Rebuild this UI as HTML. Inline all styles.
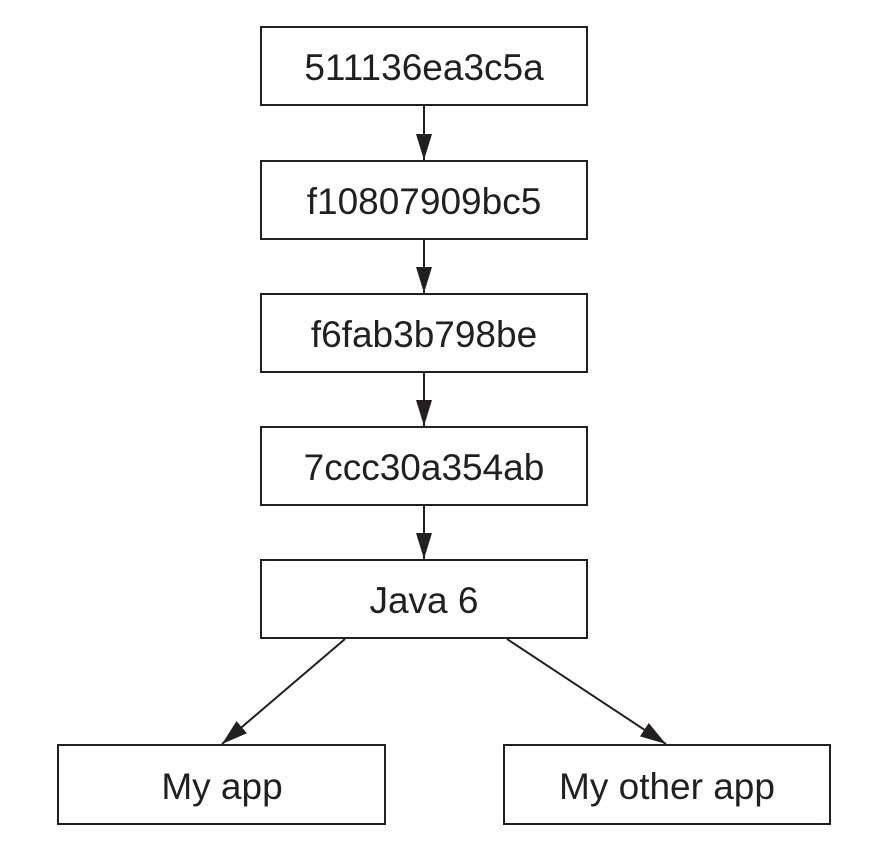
<!DOCTYPE html>
<html><head><style>
html,body{margin:0;padding:0;background:#fff;}
svg{display:block;}
text{font-family:"Liberation Sans",sans-serif;font-size:37px;fill:#231f20;text-anchor:middle;}
</style></head><body>
<svg width="878" height="858" viewBox="0 0 878 858" xmlns="http://www.w3.org/2000/svg">
<defs>
<marker id="b" markerWidth="26" markerHeight="16" refX="26" refY="8" orient="auto" markerUnits="userSpaceOnUse">
<path d="M0,0 L26,8 L0,16 Z" fill="#231f20"/>
</marker>
</defs>
<g fill="#fff" stroke="#231f20" stroke-width="2">
<rect x="261" y="27" width="326" height="78"/>
<rect x="261" y="161" width="326" height="78"/>
<rect x="261" y="294" width="326" height="78"/>
<rect x="261" y="427" width="326" height="78"/>
<rect x="261" y="560" width="326" height="78"/>
<rect x="58" y="745" width="327" height="79"/>
<rect x="504" y="745" width="326" height="79"/>
</g>
<g stroke="#231f20" stroke-width="2">
<line x1="424" y1="105" x2="424" y2="160" marker-end="url(#b)"/>
<line x1="424" y1="239" x2="424" y2="293" marker-end="url(#b)"/>
<line x1="424" y1="372" x2="424" y2="426" marker-end="url(#b)"/>
<line x1="424" y1="505" x2="424" y2="559" marker-end="url(#b)"/>
<line x1="345" y1="639" x2="222" y2="744" marker-end="url(#b)"/>
<line x1="507" y1="639" x2="666" y2="744" marker-end="url(#b)"/>
</g>
<text x="424" y="80">511136ea3c5a</text>
<text x="424" y="214">f10807909bc5</text>
<text x="424" y="347">f6fab3b798be</text>
<text x="424" y="480">7ccc30a354ab</text>
<text x="424" y="613">Java 6</text>
<text x="222" y="799">My app</text>
<text x="667" y="799">My other app</text>
</svg>
</body></html>
